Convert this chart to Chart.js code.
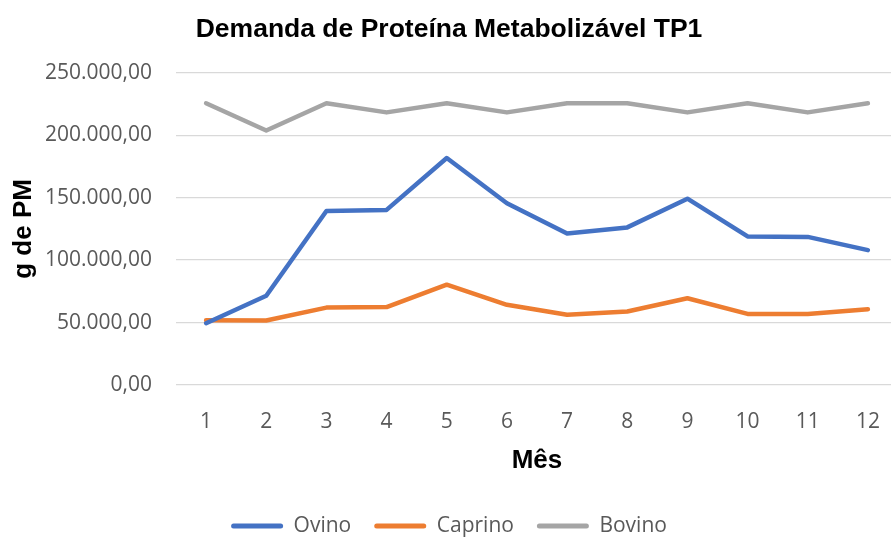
<!DOCTYPE html>
<html>
<head>
<meta charset="utf-8">
<script src="https://cdn.jsdelivr.net/npm/chart.js@4"></script>
<style>
    body { margin: 0; overflow: hidden; background: #fff; }
    #wrap { width: 900px; height: 538px; }
</style>
</head>
<body>
<div id="wrap"><canvas id="chart"></canvas></div>
<script>
// dados
const meses = ['1', '2', '3', '4', '5', '6', '7', '8', '9', '10', '11', '12'];
const ovino = [49500, 71500, 139300, 140200, 181800, 145600, 121300, 126200, 149200, 119000, 118600, 108000];
const caprino = [51900, 51600, 62000, 62400, 80300, 64200, 56200, 58800, 69500, 56900, 56900, 60700];
const bovino = [225600, 203800, 225600, 218300, 225600, 218300, 225600, 225600, 218300, 225600, 218300, 225600];

const plotLeft = 176;
const plotBottom = 385;
const legendShift = 8.5;

// 250000 -> "250.000,00"
function formatBR (v) {
    const inteiro = Math.round(v).toString().replace(/\B(?=(\d{3})+(?!\d))/g, '.');
    return inteiro + ',00';
}

function serie (label, data, color) {
    return {
        label: label,
        data: data,
        borderColor: color,
        backgroundColor: color,
        borderWidth: 4.5,
        pointRadius: 0,
        tension: 0,
        borderCapStyle: 'round',
        borderJoinStyle: 'round'
    };
}

const tickFont = { family: 'Open Sans', size: 21 };
const boldFont = { family: 'Liberation Sans', size: 26, weight: 'bold' };

const ctx = document.querySelector('#chart').getContext('2d');
const chart = new Chart(ctx, {
    type: 'line',
    data: {
        labels: meses,
        datasets: [
            serie('Ovino', ovino, '#4472C4'),
            serie('Caprino', caprino, '#ED7D31'),
            serie('Bovino', bovino, '#A5A5A5')
        ]
    },
    options: {
        responsive: true,
        maintainAspectRatio: false,
        animation: false,
        layout: { padding: { left: 0, right: 2, top: 0, bottom: -legendShift } },
        plugins: {
            title: {
                display: true,
                text: 'Demanda de Proteína Metabolizável TP1',
                color: '#000',
                font: { family: 'Liberation Sans', size: 26.5, weight: 'bold' },
                padding: { top: 14, bottom: 27 }
            },
            legend: {
                position: 'bottom',
                labels: {
                    color: '#595959',
                    font: tickFont,
                    boxWidth: 52,
                    boxHeight: 5,
                    padding: 23,
                    useBorderRadius: true,
                    borderRadius: 2.5,
                    generateLabels: function (c) {
                        return Chart.defaults.plugins.legend.labels.generateLabels(c).map(function (l) {
                            l.lineWidth = 0;
                            l.fillStyle = l.strokeStyle;
                            return l;
                        });
                    }
                }
            },
            tooltip: { enabled: false }
        },
        scales: {
            x: {
                offset: true,
                grid: { display: false },
                border: { display: false },
                ticks: { color: '#595959', font: tickFont, padding: 16, maxRotation: 0 },
                title: {
                    display: true,
                    text: 'Mês',
                    color: '#000',
                    font: boldFont,
                    padding: { top: 0, bottom: 16 }
                },
                afterFit: function (s) {
                    s.height = s.chart.height - plotBottom - s.chart.legend.height + legendShift;
                }
            },
            y: {
                min: 0,
                max: 250000,
                grid: { color: '#d9d9d9', lineWidth: 1.3, drawTicks: false },
                border: { display: false },
                ticks: {
                    stepSize: 50000,
                    color: '#595959',
                    font: tickFont,
                    padding: 24,
                    callback: function (v) { return formatBR(v); }
                },
                title: {
                    display: true,
                    text: 'g de PM',
                    color: '#000',
                    font: boldFont,
                    padding: { top: 8, bottom: 0 }
                },
                afterFit: function (s) {
                    s.width = plotLeft;
                }
            }
        }
    }
});
</script>
</body>
</html>
